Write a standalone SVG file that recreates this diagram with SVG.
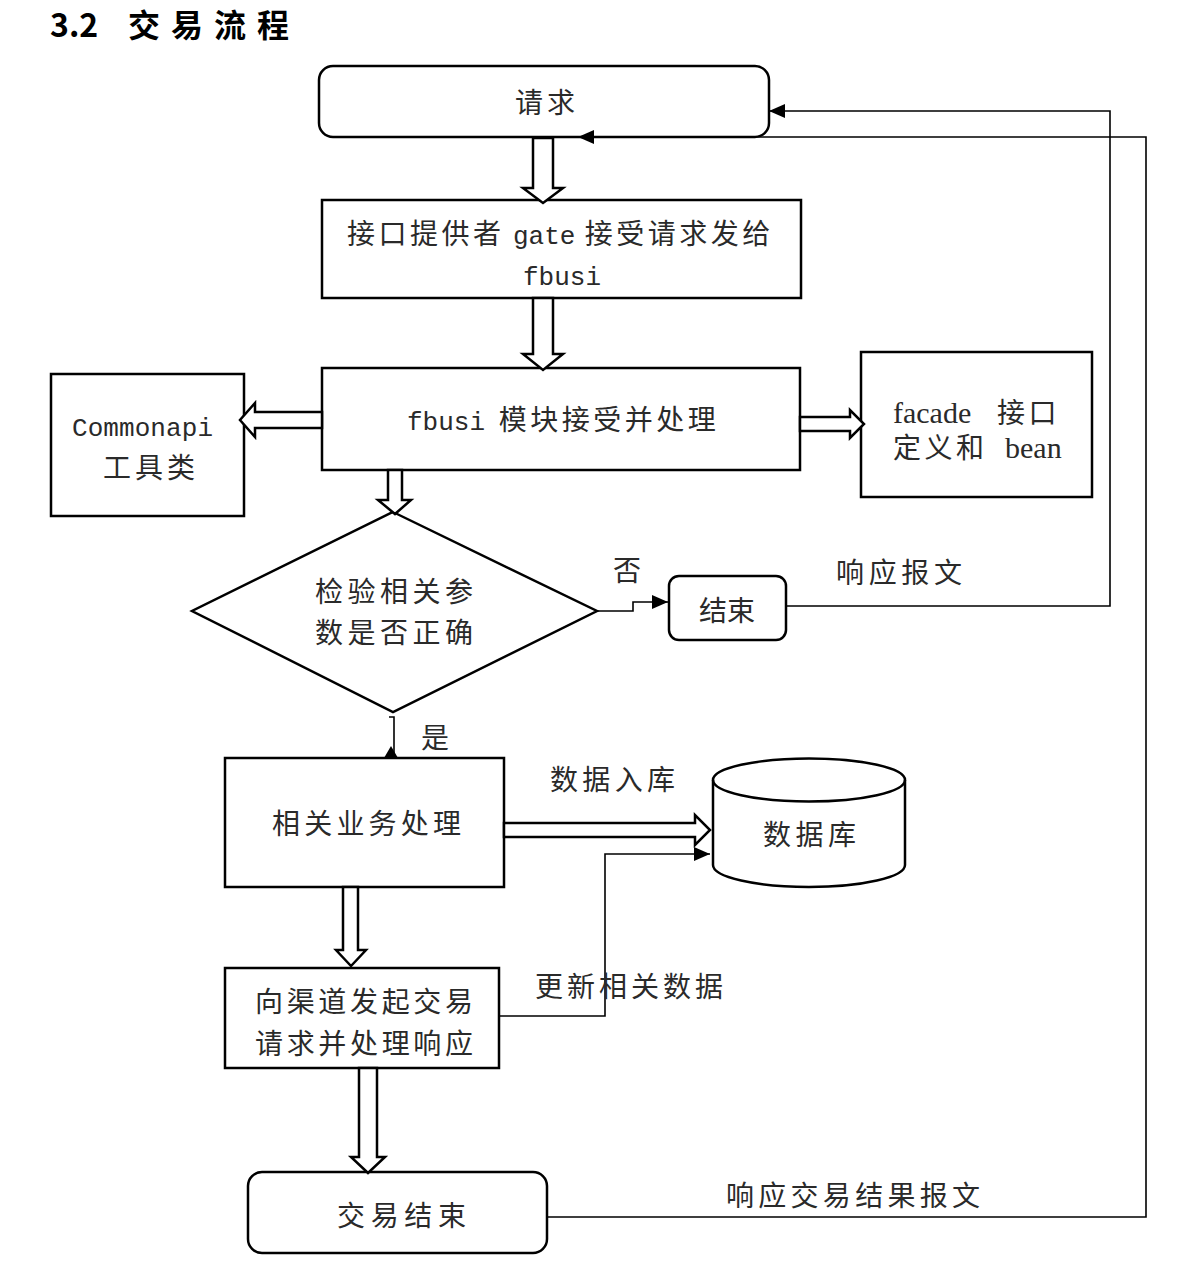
<svg xmlns="http://www.w3.org/2000/svg" width="1204" height="1278" viewBox="0 0 1204 1278">
<style>
.box{fill:#fff;stroke:#000;stroke-width:2.5}
.hol{fill:#fff;stroke:#000;stroke-width:2.5;stroke-linejoin:miter}
.ln{fill:none;stroke:#000;stroke-width:1.6}
.t{font-family:"Noto Sans CJK SC","Liberation Sans",sans-serif;font-size:28px;fill:#2a2a2a}
.c{letter-spacing:3.5px}
.m{font-family:"Liberation Mono","Noto Sans CJK SC",monospace;font-size:26px;letter-spacing:0}
.s{font-family:"Liberation Serif","Noto Sans CJK SC",serif;font-size:30px;letter-spacing:0}
.title{font-family:"Noto Sans CJK SC","Liberation Sans",sans-serif;font-size:32px;font-weight:bold;fill:#000}
</style>
<defs>
<marker id="ah" markerUnits="userSpaceOnUse" markerWidth="16" markerHeight="14" refX="16" refY="7" orient="auto">
<path d="M0,0 L16,7 L0,14 Z" fill="#000"/>
</marker>
</defs>
<rect width="1204" height="1278" fill="#fff"/>
<text class="title" y="37"><tspan x="50">3.2 </tspan><tspan x="128" letter-spacing="11">交易流程</tspan></text>

<g id="request">
<rect class="box" x="319" y="66" width="450" height="71" rx="14"/>
<text class="t" x="515" y="113" textLength="60" lengthAdjust="spacing">请求</text>
</g>

<g id="gate">
<rect class="box" x="322" y="200" width="479" height="98"/>
<text class="t c" y="244"><tspan x="347">接口提供者 </tspan><tspan class="m" x="513">gate</tspan><tspan x="575"> 接受请求发给</tspan></text>
<text class="t m" x="523" y="285">fbusi</text>
</g>

<g id="fbusi">
<rect class="box" x="322" y="368" width="478" height="102"/>
<text class="t c" y="430"><tspan class="m" x="407">fbusi</tspan><tspan x="489"> 模块接受并处理</tspan></text>
</g>

<g id="commonapi">
<rect class="box" x="51" y="374" width="193" height="142"/>
<text class="t m" x="72" y="436" textLength="141" lengthAdjust="spacing">Commonapi</text>
<text class="t" x="103" y="478" textLength="92" lengthAdjust="spacing">工具类</text>
</g>

<g id="facade">
<rect class="box" x="861" y="352" width="231" height="145"/>
<text class="t c" y="423"><tspan class="s" x="893">facade </tspan><tspan x="997">接口</tspan></text>
<text class="t c" y="458"><tspan x="893">定义和 </tspan><tspan class="s" x="1005">bean</tspan></text>
</g>

<g id="check">
<polygon class="box" points="393,512 597,611 393,712 192,611"/>
<text class="t" x="315" y="602" textLength="158" lengthAdjust="spacing">检验相关参</text>
<text class="t" x="315" y="643" textLength="158" lengthAdjust="spacing">数是否正确</text>
</g>

<g id="end1">
<rect class="box" x="669" y="576" width="117" height="64" rx="10"/>
<text class="t" x="699" y="621">结束</text>
</g>

<g id="business">
<rect class="box" x="225" y="758" width="279" height="129"/>
<text class="t" x="272" y="834" textLength="189" lengthAdjust="spacing">相关业务处理</text>
</g>

<g id="database">
<path class="box" d="M713,780 A96,21.5 0 0,1 905,780 L905,865 A96,22 0 0,1 713,865 Z"/>
<path class="ln" style="stroke-width:2.5" d="M713,780 A96,21.5 0 0,0 905,780"/>
<text class="t" x="763" y="845" textLength="93" lengthAdjust="spacing">数据库</text>
</g>

<g id="channel">
<rect class="box" x="225" y="968" width="274" height="100"/>
<text class="t" x="255" y="1012" textLength="218" lengthAdjust="spacing">向渠道发起交易</text>
<text class="t" x="255" y="1054" textLength="218" lengthAdjust="spacing">请求并处理响应</text>
</g>

<g id="end2">
<rect class="box" x="248" y="1172" width="299" height="81" rx="14"/>
<text class="t" x="337" y="1226" textLength="129" lengthAdjust="spacing">交易结束</text>
</g>

<g id="connectors">
<polygon class="hol" points="533,138 533,188 523,188 543,203 563,188 553,188 553,138"/>
<polygon class="hol" points="533,298 533,354 523,354 543,370 563,354 553,354 553,298"/>
<polygon class="hol" points="322,412 255,412 255,403 240,420 255,437 255,428 322,428"/>
<polygon class="hol" points="800,417 850,417 850,410 864,424 850,438 850,431 800,431"/>
<polygon class="hol" points="388,470 388,500 378,500 395,514 411,500 402,500 402,470"/>
<polygon class="hol" points="504,823 695,823 695,815 710,830 695,845 695,837 504,837"/>
<polygon class="hol" points="343,887 343,950 336,950 351,966 366,950 358,950 358,887"/>
<polygon class="hol" points="359,1068 359,1157 351,1157 368,1173 385,1157 377,1157 377,1068"/>
<path class="ln" d="M597,611 H633 V602 H668" marker-end="url(#ah)"/>
<path class="ln" d="M786,606 H1110 V111 H769" marker-end="url(#ah)"/>
<path class="ln" d="M548,1217 H1146 V137 H578" marker-end="url(#ah)"/>
<path class="ln" d="M389,717 H394 V758"/>
<polygon points="384,758 391,746 398,758" fill="#000"/>
<path class="ln" d="M499,1016 H605 V854 H710" marker-end="url(#ah)"/>
<text class="t" x="613" y="581">否</text>
<text class="t" x="836" y="583" textLength="126" lengthAdjust="spacing">响应报文</text>
<text class="t" x="421" y="748">是</text>
<text class="t" x="550" y="790" textLength="125" lengthAdjust="spacing">数据入库</text>
<text class="t" x="535" y="997" textLength="188" lengthAdjust="spacing">更新相关数据</text>
<text class="t" x="726" y="1206" textLength="254" lengthAdjust="spacing">响应交易结果报文</text>
</g>
</svg>
